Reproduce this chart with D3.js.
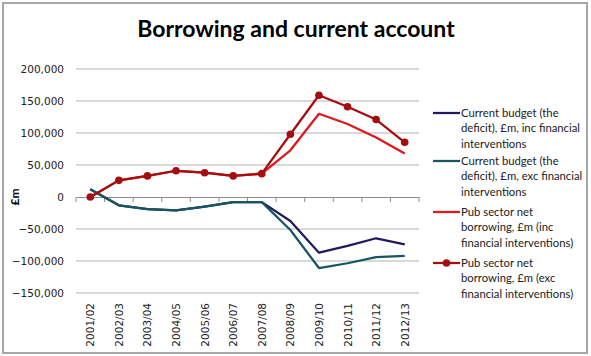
<!DOCTYPE html>
<html><head><meta charset="utf-8">
<script src="https://cdn.jsdelivr.net/npm/d3@7"></script>
<style>body{margin:0;background:#fff}svg{display:block}</style>
</head><body>
<script>
const categories = ["2001/02","2002/03","2003/04","2004/05","2005/06","2006/07","2007/08","2008/09","2009/10","2010/11","2011/12","2012/13"];
const cbInc  = [12000,-13000,-19000,-21000,-15000,-8000,-8000,-37500,-87000,-76500,-64500,-74000];
const cbExc  = [12000,-13000,-19000,-21000,-15000,-8000,-8000,-51500,-111000,-103500,-94000,-92000];
const psnbInc = [0,26000,33000,41000,38000,33000,36500,73000,130000,114000,93000,68000];
const psnbExc = [0,26000,33000,41000,38000,33000,36500,98000,159000,141000,121000,85500];
const yTicks = [-150000,-100000,-50000,0,50000,100000,150000,200000];
const seriesNames = [
  ["Current budget (the","deficit), £m, inc financial","interventions"],
  ["Current budget (the","deficit), £m, exc financial","interventions"],
  ["Pub sector net","borrowing, £m (inc","financial interventions)"],
  ["Pub sector net","borrowing, £m (exc","financial interventions)"]
];
const series = [
  {vals: cbInc, color:"#201a5e", marker:false},
  {vals: cbExc, color:"#16565e", marker:false},
  {vals: psnbInc, color:"#e0171c", marker:false},
  {vals: psnbExc, color:"#a50d0f", marker:true}
];

const W=591,H=356;
const svg=d3.select("body").append("svg").attr("width",W).attr("height",H);
svg.append("rect").attr("x",3).attr("y",3).attr("width",584).attr("height",350)
  .attr("fill","#fff").attr("stroke","#a6a6a6").attr("stroke-width",2);

svg.append("text").attr("x",296).attr("y",37).attr("text-anchor","middle")
  .attr("font-family","Lato, 'Open Sans', sans-serif").attr("font-weight","bold")
  .attr("font-size",23).attr("fill","#000").text("Borrowing and current account");

const x0=76,x1=419;
const y=d3.scaleLinear().domain([-150000,200000]).range([293,69]);
const xb=d3.scaleBand().domain(categories).range([x0,x1]).padding(0);
const xc=d=>xb(d)+xb.bandwidth()/2;

// gridlines
svg.append("g").selectAll("line").data(yTicks.filter(t=>t!==0)).join("line")
  .attr("x1",x0).attr("x2",x1).attr("y1",d=>y(d)).attr("y2",d=>y(d))
  .attr("stroke","#b3b3b3").attr("stroke-width",1);

// y axis labels
const yAxis=d3.axisLeft(y).tickValues(yTicks).tickSize(0).tickPadding(12)
  .tickFormat(d3.format(","));
const gy=svg.append("g").attr("transform",`translate(${x0},0)`).call(yAxis);
gy.select(".domain").remove();
gy.selectAll("text").attr("font-family","Verdana, 'DejaVu Sans', sans-serif").attr("font-size",10.5).attr("fill","#222");

// x axis at zero with ticks downward
const xAxis=d3.axisBottom(xb).tickSize(0).tickFormat("");
const gx=svg.append("g").attr("transform",`translate(0,${y(0)})`).call(xAxis);
gx.select(".domain").attr("stroke","#8c8c8c").attr("stroke-width",1);
svg.append("g").selectAll("line").data(categories.concat(["_end"])).join("line")
  .attr("x1",(d,i)=>i<categories.length?xb(d):x1).attr("x2",(d,i)=>i<categories.length?xb(d):x1)
  .attr("y1",y(0)).attr("y2",y(0)+5).attr("stroke","#8c8c8c");

// category labels rotated
svg.append("g").selectAll("text").data(categories).join("text")
  .attr("transform",d=>`translate(${xc(d)+4},303) rotate(-90)`)
  .attr("text-anchor","end")
  .attr("font-family","Verdana, 'DejaVu Sans', sans-serif").attr("font-size",10.5).attr("fill","#222")
  .text(d=>d);

// y title
svg.append("text").attr("transform","translate(19,197) rotate(-90)").attr("text-anchor","middle")
  .attr("font-family","Lato, sans-serif").attr("font-weight","bold").attr("font-size",12).text("£m");

// lines
const line=d3.line().x((d,i)=>xc(categories[i])).y(d=>y(d));
series.forEach(s=>{
  svg.append("path").attr("d",line(s.vals)).attr("fill","none").attr("stroke",s.color)
    .attr("stroke-width",2.25).attr("stroke-linejoin","round");
  if(s.marker){
    svg.append("g").selectAll("circle").data(s.vals).join("circle")
      .attr("cx",(d,i)=>xc(categories[i])).attr("cy",d=>y(d)).attr("r",3.8).attr("fill",s.color);
  }
});

// legend
const legY=[113,161,212,263];
series.forEach((s,i)=>{
  const g=svg.append("g");
  g.append("line").attr("x1",433).attr("x2",460).attr("y1",legY[i]).attr("y2",legY[i])
    .attr("stroke",s.color).attr("stroke-width",2.25);
  if(s.marker) g.append("circle").attr("cx",446.5).attr("cy",legY[i]).attr("r",3.8).attr("fill",s.color);
  seriesNames[i].forEach((t,j)=>{
    g.append("text").attr("x",461).attr("y",legY[i]+4+j*15.3)
      .attr("font-family","Lato, sans-serif").attr("font-size",11.3).attr("fill","#222").text(t);
  });
});
</script>
</body></html>
